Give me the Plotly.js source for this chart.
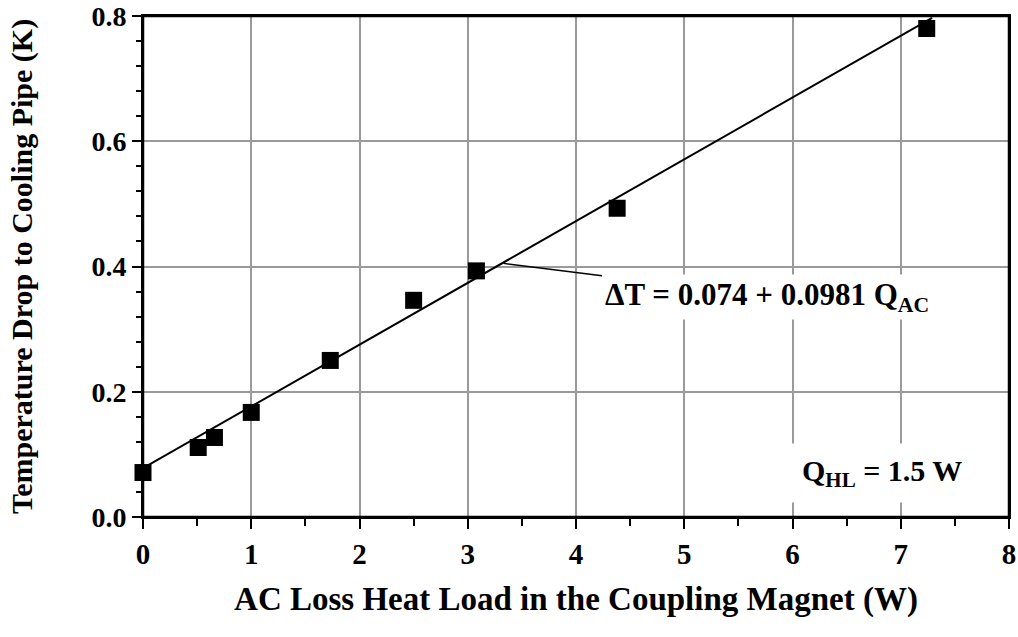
<!DOCTYPE html>
<html>
<head>
<meta charset="utf-8">
<script src="https://cdn.plot.ly/plotly-3.0.1.min.js"></script>
<style>html,body{margin:0;padding:0;background:#fff;}#chart{width:1018px;height:637px;}</style>
</head>
<body>
<div id="chart"></div>
<script>
var heatLoad = [0, 0.51, 0.66, 1.0, 1.73, 2.50, 3.08, 4.38, 7.24];
var tempDrop = [0.071, 0.111, 0.127, 0.167, 0.250, 0.346, 0.393, 0.493, 0.780];
var fitX = [0, 7.29];
var fitY = [0.078, 0.797];
var xTicks = [0, 1, 2, 3, 4, 5, 6, 7, 8];
var xTickText = ['0', '1', '2', '3', '4', '5', '6', '7', '8'];
var yTicks = [0, 0.2, 0.4, 0.6, 0.8];
var yTickText = ['0.0', '0.2', '0.4', '0.6', '0.8'];
var xTitle = 'AC Loss Heat Load in the Coupling Magnet (W)';
var yTitle = 'Temperature Drop to Cooling Pipe (K)';
var eqText = '<b>\u0394T = 0.074 + 0.0981 Q<sub>AC</sub></b>';
var qhlText = '<b>Q<sub>HL</sub> = 1.5 W</b>';

var serif = 'Liberation Serif, Times New Roman, serif';

var traces = [
  {x: fitX, y: fitY, mode: 'lines', line: {color: '#000', width: 2}, hoverinfo: 'skip', cliponaxis: false},
  {x: heatLoad, y: tempDrop, mode: 'markers', marker: {symbol: 'square', size: 17, color: '#000'}, cliponaxis: false}
];

var layout = {
  width: 1018, height: 637,
  margin: {l: 143, r: 9, t: 16, b: 120},
  paper_bgcolor: '#fff', plot_bgcolor: '#fff',
  showlegend: false,
  font: {family: serif, color: '#000'},
  xaxis: {
    range: [0, 8], tickmode: 'array', tickvals: xTicks, ticktext: xTickText,
    showgrid: true, gridcolor: '#9a9a9a', gridwidth: 2,
    zeroline: false,
    showline: true, linecolor: '#000', linewidth: 2, mirror: true,
    ticks: 'outside', ticklen: 10, tickwidth: 2, tickcolor: '#000',
    ticklabeloverflow: 'allow',
    minor: {dtick: 0.5, tick0: 0, ticks: 'outside', ticklen: 7, tickwidth: 2, tickcolor: '#000', showgrid: false},
    tickfont: {family: serif, size: 29, weight: 'bold', color: '#000'},
    title: {text: xTitle, font: {family: serif, size: 33, weight: 'bold', color: '#000'}, standoff: 18}
  },
  yaxis: {
    range: [0, 0.8], tickmode: 'array', tickvals: yTicks, ticktext: yTickText,
    showgrid: true, gridcolor: '#9a9a9a', gridwidth: 2,
    zeroline: false,
    showline: true, linecolor: '#000', linewidth: 2, mirror: true,
    ticks: 'outside', ticklen: 9, tickwidth: 2, tickcolor: '#000',
    ticklabeloverflow: 'allow',
    minor: {dtick: 0.04, tick0: 0, ticks: 'outside', ticklen: 5, tickwidth: 2, tickcolor: '#000', showgrid: false},
    tickfont: {family: serif, size: 28, weight: 'bold', color: '#000'},
    title: {text: yTitle, font: {family: serif, size: 30, weight: 'bold', color: '#000'}, standoff: 50}
  },
  shapes: [
    {type: 'rect', xref: 'paper', yref: 'paper', x0: 0, x1: 1, y0: 0, y1: 1,
     line: {color: '#000', width: 2.5}, fillcolor: 'rgba(0,0,0,0)', layer: 'above'}
  ],
  annotations: [
    {
      x: 3.33, y: 0.405, xref: 'x', yref: 'y',
      ax: 5.76, ay: 0.352, axref: 'x', ayref: 'y',
      text: eqText, showarrow: true, arrowhead: 0, arrowwidth: 1.5, arrowcolor: '#000',
      bgcolor: '#fff', borderpad: 2,
      font: {family: serif, size: 31, color: '#000'}
    },
    {
      x: 6.83, y: 0.070, xref: 'x', yref: 'y',
      text: qhlText, showarrow: false,
      bgcolor: '#fff', borderpad: 10,
      font: {family: serif, size: 30, color: '#000'}
    }
  ]
};

Plotly.newPlot('chart', traces, layout, {displayModeBar: false, staticPlot: true});
</script>
</body>
</html>
